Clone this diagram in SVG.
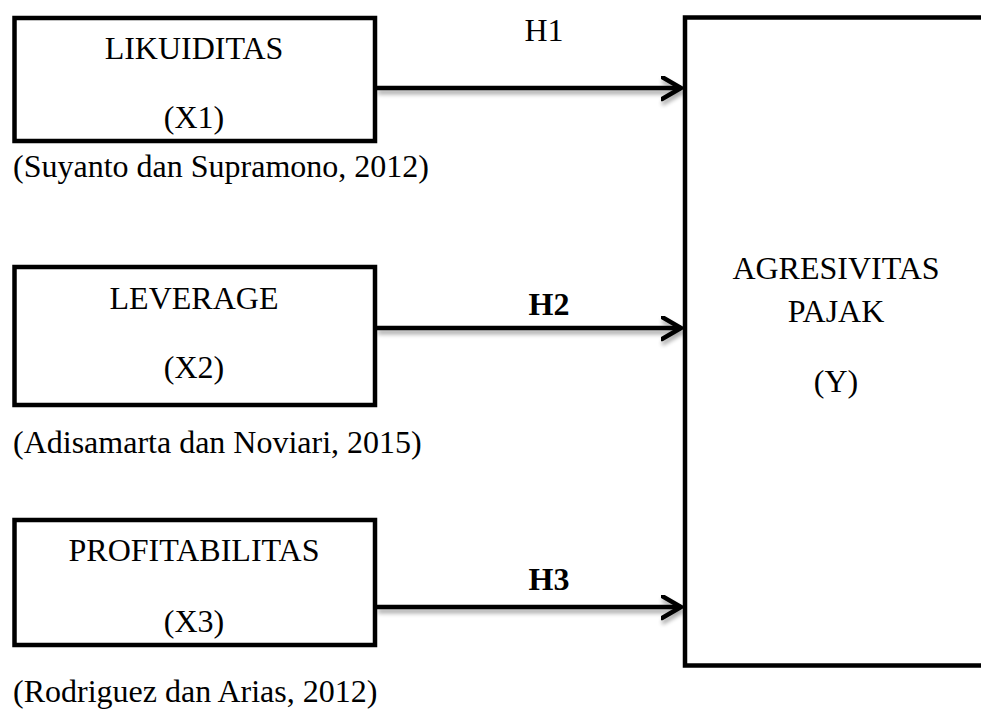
<svg xmlns="http://www.w3.org/2000/svg" width="981" height="718" viewBox="0 0 981 718">
  <style>
    .box { fill: #ffffff; stroke: #000000; stroke-width: 4.5; stroke-linejoin: miter; }
    .t { font-family: "Liberation Serif", "Times New Roman", serif; font-size: 32px; fill: #000000; }
    .c { text-anchor: middle; }
    .b { font-weight: bold; }
    .edge { stroke: #000000; stroke-width: 4.5; fill: none; }
  </style>
  <defs>
    <filter id="shadow" x="-5%" y="-100%" width="110%" height="400%">
      <feGaussianBlur in="SourceAlpha" stdDeviation="2"/>
      <feOffset dx="1" dy="4" result="b"/>
      <feComponentTransfer><feFuncA type="linear" slope="0.35"/></feComponentTransfer>
      <feMerge><feMergeNode/><feMergeNode in="SourceGraphic"/></feMerge>
    </filter>
    <marker id="arrow" markerUnits="userSpaceOnUse" markerWidth="30" markerHeight="30" refX="20" refY="12" orient="auto">
      <path d="M1,1 L20,12 L1,23" fill="none" stroke="#000000" stroke-width="4.5" stroke-linecap="round" stroke-linejoin="miter"/>
    </marker>
  </defs>
  <rect width="981" height="718" fill="#ffffff"/>

  <g id="connectors" filter="url(#shadow)">
    <line class="edge" x1="377" y1="88" x2="681" y2="88" marker-end="url(#arrow)"/>
    <line class="edge" x1="377" y1="328" x2="681" y2="328" marker-end="url(#arrow)"/>
    <line class="edge" x1="377" y1="607" x2="681" y2="607" marker-end="url(#arrow)"/>
  </g>

  <g id="label-h1"><text class="t c" x="544" y="41">H1</text></g>
  <g id="label-h2"><text class="t c b" x="549" y="315">H2</text></g>
  <g id="label-h3"><text class="t c b" x="549" y="590">H3</text></g>

  <g id="node-x1">
    <rect class="box" x="14.5" y="18" width="360.5" height="123"/>
    <text class="t c" x="194" y="59">LIKUIDITAS</text>
    <text class="t c" x="194" y="128">(X1)</text>
  </g>
  <text class="t" x="13" y="177">(Suyanto dan Supramono, 2012)</text>

  <g id="node-x2">
    <rect class="box" x="14.5" y="267" width="360.5" height="138"/>
    <text class="t c" x="194" y="309">LEVERAGE</text>
    <text class="t c" x="194" y="378">(X2)</text>
  </g>
  <text class="t" x="13" y="453">(Adisamarta dan Noviari, 2015)</text>

  <g id="node-x3">
    <rect class="box" x="14.5" y="520" width="360.5" height="125"/>
    <text class="t c" x="194" y="561">PROFITABILITAS</text>
    <text class="t c" x="194" y="632">(X3)</text>
  </g>
  <text class="t" x="13" y="702">(Rodriguez dan Arias, 2012)</text>

  <g id="node-y">
    <rect class="box" x="685" y="17.5" width="330" height="648"/>
    <text class="t c" x="836" y="279">AGRESIVITAS</text>
    <text class="t c" x="836" y="322">PAJAK</text>
    <text class="t c" x="836" y="392">(Y)</text>
  </g>
</svg>
